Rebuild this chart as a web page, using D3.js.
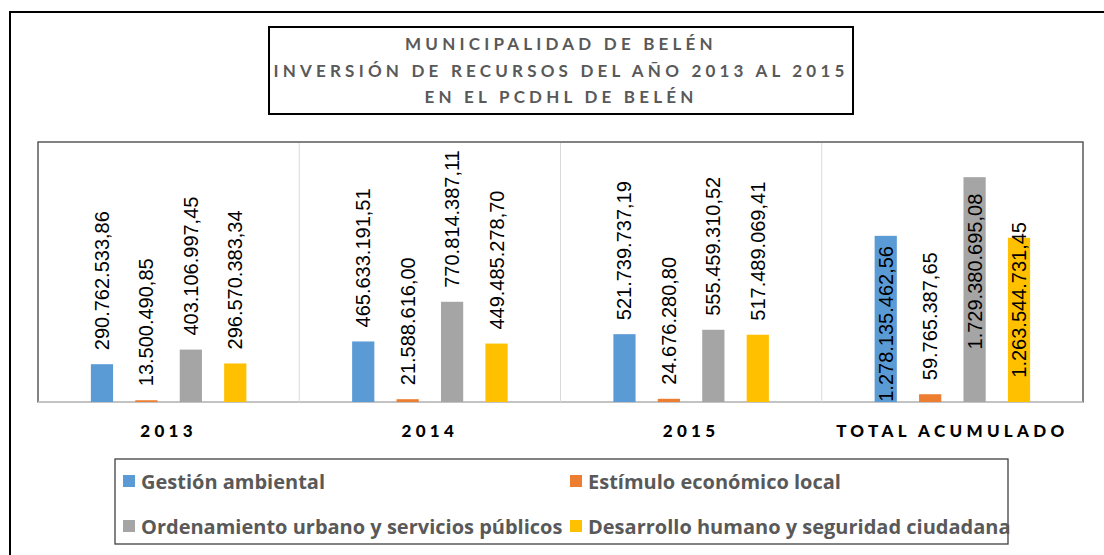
<!DOCTYPE html>
<html>
<head>
<meta charset="utf-8">
<script src="https://cdn.jsdelivr.net/npm/d3@7"></script>
<style>
  body { margin: 0; background: #fff; }
  svg { display: block; }
</style>
</head>
<body>
<div class="content"></div>
<script>
const SVG_W = 1104
const SVG_H = 555

// data
const categories = ["2013", "2014", "2015", "TOTAL ACUMULADO"];
const series = ["Gestión ambiental", "Estímulo económico local", "Ordenamiento urbano y servicios públicos", "Desarrollo humano y seguridad ciudadana"];
const gestionAmbiental = [290762533.86, 465633191.51, 521739737.19, 1278135462.56];
const estimuloEconomico = [13500490.85, 21588616.00, 24676280.80, 59765387.65];
const ordenamientoUrbano = [403106997.45, 770814387.11, 555459310.52, 1729380695.08];
const desarrolloHumano = [296570383.34, 449485278.70, 517489069.41, 1263544731.45];
const titleLines = ["MUNICIPALIDAD DE BELÉN", "INVERSIÓN DE RECURSOS DEL AÑO 2013 AL 2015", "EN EL PCDHL DE BELÉN"];

const seriesValues = [gestionAmbiental, estimuloEconomico, ordenamientoUrbano, desarrolloHumano];
const COLORS = ["#5B9BD5", "#ED7D31", "#A5A5A5", "#FFC000"];
// labels that don't fit above the bar get moved inside (px nudge, per series)
const INSIDE_NUDGE = [5, 0, -18, -20];

const PLOT = {left: 38, right: 1083, top: 142, bottom: 402};

const svg = d3.select(".content").append("svg").attr("width", SVG_W).attr("height", SVG_H);

// outer frame
svg.append("rect").attr("x", 10).attr("y", 12).attr("width", SVG_W + 20).attr("height", SVG_H + 20)
    .attr("fill", "none").attr("stroke", "#000").attr("stroke-width", 2);

// title box
svg.append("rect").attr("x", 269).attr("y", 27).attr("width", 584).attr("height", 87)
    .attr("fill", "#fff").attr("stroke", "#000").attr("stroke-width", 2);
svg.append("g").selectAll("text")
    .data(titleLines)
    .join("text")
    .attr("x", 561)
    .attr("y", (d, i) => 50 + i * 26.5)
    .attr("text-anchor", "middle")
    .style("font-family", "Lato, 'Open Sans', sans-serif")
    .style("font-weight", "bold")
    .style("font-size", "17px")
    .style("letter-spacing", "4.2px")
    .style("fill", "#595959")
    .text(d => d);

// scales
let xscale = d3.scaleBand().domain(categories).range([PLOT.left, PLOT.right]).padding(0);
let xinner = d3.scaleBand().domain(series).range([0, xscale.bandwidth()]).paddingInner(0.5).paddingOuter(1.19);
let yscale = d3.scaleLinear().domain([0, 2000000000]).range([PLOT.bottom, PLOT.top]);

// plot area
svg.append("rect").attr("x", PLOT.left).attr("y", PLOT.top)
    .attr("width", PLOT.right - PLOT.left).attr("height", PLOT.bottom - PLOT.top)
    .attr("fill", "#fff").attr("stroke", "#404040").attr("stroke-width", 1.3);

// category separators
svg.append("g").selectAll("line")
    .data(categories.slice(1))
    .join("line")
    .attr("x1", d => xscale(d)).attr("x2", d => xscale(d))
    .attr("y1", PLOT.top + 1).attr("y2", PLOT.bottom)
    .attr("stroke", "#d9d9d9").attr("stroke-width", 1);

// baseline
svg.append("line").attr("x1", PLOT.left).attr("x2", PLOT.right)
    .attr("y1", PLOT.bottom).attr("y2", PLOT.bottom)
    .attr("stroke", "#d9d9d9").attr("stroke-width", 1.3);

let bars = [];
categories.forEach((c, ci) => {
    series.forEach((s, si) => {
        bars.push({cat: c, ser: s, si: si, value: seriesValues[si][ci]});
    });
});

svg.append("g").selectAll("rect")
    .data(bars)
    .join("rect")
    .attr("x", d => xscale(d.cat) + xinner(d.ser))
    .attr("y", d => yscale(d.value))
    .attr("width", xinner.bandwidth())
    .attr("height", d => PLOT.bottom - yscale(d.value))
    .attr("fill", d => COLORS[d.si]);

// value labels
const fmt = v => {
    let s = d3.format(",.2f")(v);
    return s.replace(/,/g, "#").replace(".", ",").replace(/#/g, ".");
};
svg.append("g").selectAll("text")
    .data(bars)
    .join("text")
    .each(function(d) {
        let t = d3.select(this).text(fmt(d.value))
            .style("font-family", "'Liberation Sans', Arial, sans-serif")
            .style("font-size", "20px")
            .style("fill", "#000")
            .attr("dominant-baseline", "central");
        let cx = xscale(d.cat) + xinner(d.ser) + xinner.bandwidth() / 2;
        let len = this.getComputedTextLength();
        let ystart = yscale(d.value) - 14;
        if (ystart - len < PLOT.top) {
            let cy = (yscale(d.value) + PLOT.bottom) / 2 + INSIDE_NUDGE[d.si];
            t.attr("text-anchor", "middle").attr("transform", `translate(${cx},${cy}) rotate(-90)`);
        } else {
            t.attr("text-anchor", "start").attr("transform", `translate(${cx},${ystart}) rotate(-90)`);
        }
    });

// category labels
svg.append("g").selectAll("text")
    .data(categories)
    .join("text")
    .attr("x", d => xscale(d) + xscale.bandwidth() / 2)
    .attr("y", 437)
    .attr("text-anchor", "middle")
    .style("font-family", "Lato, 'Open Sans', sans-serif")
    .style("font-weight", "900")
    .style("font-size", "17px")
    .style("letter-spacing", "4.3px")
    .style("fill", "#000")
    .text(d => d);

// legend
svg.append("rect").attr("x", 115).attr("y", 459).attr("width", 893).attr("height", 85)
    .attr("fill", "#fff").attr("stroke", "#404040").attr("stroke-width", 1.3);
let legend = svg.append("g").selectAll("g")
    .data(series)
    .join("g")
    .attr("transform", (d, i) => `translate(${i % 2 === 0 ? 123 : 570},${i < 2 ? 481 : 526})`);
legend.append("rect").attr("x", 0).attr("y", -6).attr("width", 12).attr("height", 12)
    .attr("fill", (d, i) => COLORS[i]);
legend.append("text")
    .attr("x", 18).attr("y", 0)
    .attr("dominant-baseline", "central")
    .style("font-family", "'Open Sans', Lato, sans-serif")
    .style("font-weight", "bold")
    .style("font-size", "20px")
    .style("fill", "#595959")
    .text(d => d);
</script>
</body>
</html>
